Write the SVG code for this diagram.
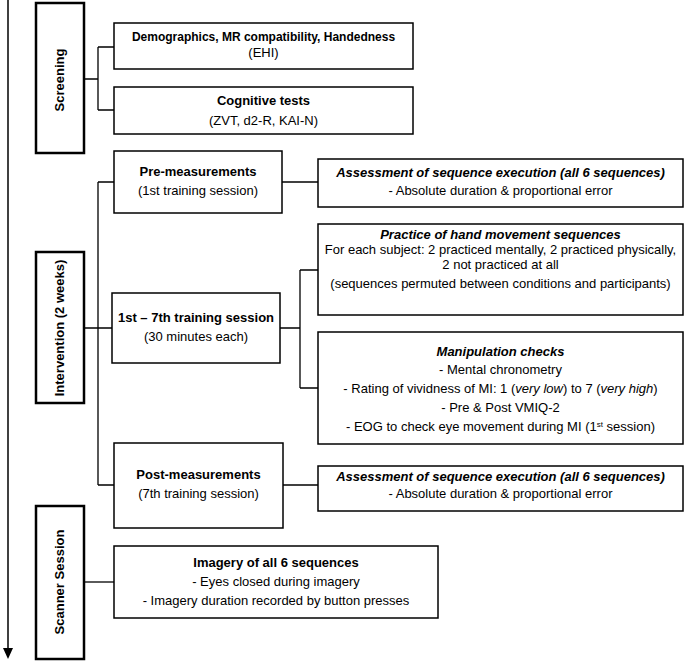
<svg xmlns="http://www.w3.org/2000/svg" width="685" height="661" viewBox="0 0 685 661">
<style>
text{font-family:"Liberation Sans",Arial,sans-serif;font-size:13px;fill:#000;text-anchor:middle}
.b{font-weight:bold}
.bi{font-weight:bold;font-style:italic}
.i{font-style:italic}
.phase{fill:#fff;stroke:#000;stroke-width:2.5}
.box{fill:#fff;stroke:#000;stroke-width:1.5}
.con{fill:none;stroke:#000;stroke-width:1.3}
</style>
<rect width="685" height="661" fill="#fff"/>
<g id="timeline">
<line x1="8" y1="0" x2="8" y2="650" stroke="#000" stroke-width="1.5"/>
<polygon points="3,648 13,648 8,659" fill="#000"/>
</g>
<g id="connectors">
<path class="con" d="M84,79 H98 M98,47 V110 M98,47 H114 M98,110 H114"/>
<path class="con" d="M84,328 H98 M98,182 V485 M98,182 H114 M98,328 H112 M98,485 H114"/>
<path class="con" d="M282,182 H318"/>
<path class="con" d="M280,328 H300 M300,270 V388 M300,270 H318 M300,388 H318"/>
<path class="con" d="M283,485 H318"/>
<path class="con" d="M84,582 H114"/>
</g>
<g id="screening">
<rect class="phase" x="36" y="3" width="48" height="150"/>
<text class="b" transform="translate(64,80) rotate(-90)">Screening</text>
</g>
<g id="intervention">
<rect class="phase" x="36" y="252" width="48" height="151"/>
<text class="b" transform="translate(64,328) rotate(-90)">Intervention (2 weeks)</text>
</g>
<g id="scanner">
<rect class="phase" x="36" y="506" width="48" height="153"/>
<text class="b" transform="translate(64,582) rotate(-90)">Scanner Session</text>
</g>
<g id="demographics">
<rect class="box" x="114" y="23" width="299" height="46"/>
<text class="b" x="263.5" y="41" style="font-size:12px">Demographics, MR compatibility, Handedness</text>
<text x="263.5" y="57">(EHI)</text>
</g>
<g id="cognitive">
<rect class="box" x="114" y="87" width="299" height="47"/>
<text class="b" x="263.5" y="105">Cognitive tests</text>
<text x="263.5" y="125">(ZVT, d2-R, KAI-N)</text>
</g>
<g id="pre">
<rect class="box" x="114" y="151" width="168" height="62"/>
<text class="b" x="198" y="176">Pre-measurements</text>
<text x="198" y="195">(1st training session)</text>
</g>
<g id="training">
<rect class="box" x="112" y="293" width="168" height="70"/>
<text class="b" x="196" y="322">1st – 7th training session</text>
<text x="196" y="341">(30 minutes each)</text>
</g>
<g id="post">
<rect class="box" x="114" y="443" width="169" height="85"/>
<text class="b" x="198.5" y="479">Post-measurements</text>
<text x="198.5" y="498">(7th training session)</text>
</g>
<g id="assessment-pre">
<rect class="box" x="318" y="159" width="365" height="48"/>
<text class="bi" x="500.5" y="177">Assessment of sequence execution (all 6 sequences)</text>
<text x="500.5" y="195">- Absolute duration &amp; proportional error</text>
</g>
<g id="practice">
<rect class="box" x="318" y="224" width="365" height="91"/>
<text class="bi" x="500.5" y="239">Practice of hand movement sequences</text>
<text x="500.5" y="254">For each subject: 2 practiced mentally, 2 practiced physically,</text>
<text x="500.5" y="269">2 not practiced at all</text>
<text x="500.5" y="288">(sequences permuted between conditions and participants)</text>
</g>
<g id="manipulation">
<rect class="box" x="318" y="332" width="365" height="112"/>
<text class="bi" x="500.5" y="356">Manipulation checks</text>
<text x="500.5" y="374">- Mental chronometry</text>
<text x="500.5" y="393">- Rating of vividness of MI: 1 (<tspan class="i">very low</tspan>) to 7 (<tspan class="i">very high</tspan>)</text>
<text x="500.5" y="412">- Pre &amp; Post VMIQ-2</text>
<text x="500.5" y="431">- EOG to check eye movement during MI (1<tspan dy="-4" style="font-size:8px">st</tspan><tspan dy="4"> session)</tspan></text>
</g>
<g id="assessment-post">
<rect class="box" x="318" y="466" width="365" height="45"/>
<text class="bi" x="500.5" y="481">Assessment of sequence execution (all 6 sequences)</text>
<text x="500.5" y="498">- Absolute duration &amp; proportional error</text>
</g>
<g id="imagery">
<rect class="box" x="114" y="546" width="324" height="72"/>
<text class="b" x="276" y="567">Imagery of all 6 sequences</text>
<text x="276" y="586">- Eyes closed during imagery</text>
<text x="276" y="605">- Imagery duration recorded by button presses</text>
</g>
</svg>
